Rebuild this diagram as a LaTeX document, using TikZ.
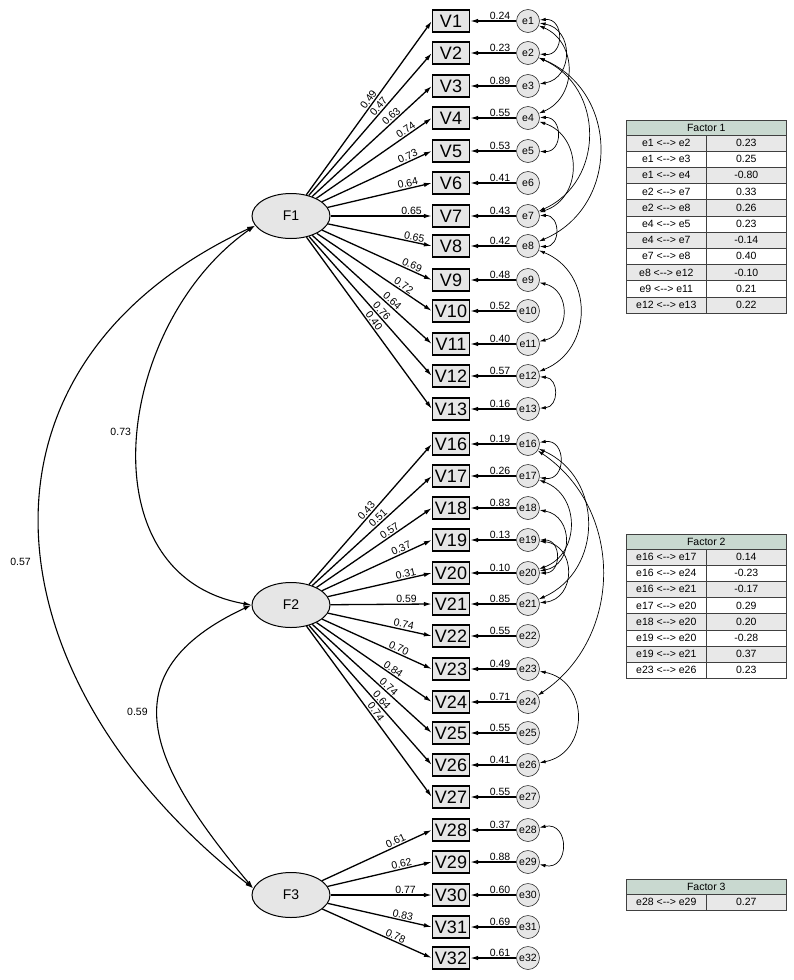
\documentclass[tikz,border=0pt]{standalone}
\usepackage{fontspec}
\setmainfont{Liberation Sans}
\usetikzlibrary{arrows.meta, shapes.geometric}

\definecolor{boxgrey}{RGB}{230,230,230}
\definecolor{rowgrey}{RGB}{232,232,232}
\definecolor{headgreen}{RGB}{201,217,208}

\begin{document}
\begin{tikzpicture}[x=1pt, y=1pt,
    every node/.style={font=\fontsize{10.5}{12}\selectfont},
    lat/.style={ellipse, draw, line width=1pt, fill=boxgrey,
      minimum width=78pt, minimum height=45pt, inner sep=0pt,
      font=\fontsize{14}{14}\selectfont},
    var/.style={rectangle, draw, line width=1.3pt, fill=boxgrey,
      minimum width=37pt, minimum height=22pt, inner sep=0pt,
      font=\fontsize{18}{18}\selectfont},
    err/.style={circle, draw=black!80, line width=0.6pt, fill=boxgrey,
      minimum size=23pt, inner sep=0pt, font=\fontsize{10.5}{11}\selectfont},
    load/.style={line width=1.3pt, -{Latex[length=8pt, width=4.5pt]}},
    cov/.style={line width=0.7pt,
      {Latex[length=6pt, width=3.5pt]}-{Latex[length=6pt, width=3.5pt]}},
    fcov/.style={line width=1.1pt,
      {Latex[length=8pt, width=4.5pt]}-{Latex[length=8pt, width=4.5pt]}},
    lbl/.style={inner sep=1pt},
    cell/.style={draw=black!75, line width=0.6pt, minimum height=16.2pt,
      minimum width=80pt, inner sep=0pt, anchor=north west,
      font=\fontsize{10.5}{11}\selectfont},
  ]
  \fill[white] (0,0) rectangle (794,-980);
  \useasboundingbox (0,0) rectangle (794,-980);

  % latent factors
  \node[lat] (F1) at (291,-216) {F1};
  \node[lat] (F2) at (291,-605) {F2};
  \node[lat] (F3) at (291,-895) {F3};

  % indicators, errors, loadings
  \foreach \vn/\vy/\fa/\ld/\ps/\rs in {
      1/21/1/0.49/0.53/0.24, 2/53/1/0.47/0.60/0.23, 3/86/1/0.63/0.69/0.89,
      4/118/1/0.74/0.80/0.55, 5/151/1/0.73/0.80/0.53, 6/183/1/0.64/0.78/0.41,
      7/216/1/0.65/0.80/0.43, 8/246/1/0.65/0.82/0.42, 9/280/1/0.69/0.80/0.48,
      10/311/1/0.72/0.73/0.52, 11/344/1/0.64/0.64/0.40, 12/376/1/0.76/0.56/0.57,
      13/409/1/0.40/0.505/0.16,
      16/444/2/0.43/0.50/0.19, 17/476/2/0.51/0.58/0.26, 18/508/2/0.57/0.66/0.83,
      19/540/2/0.37/0.74/0.13, 20/573/2/0.31/0.76/0.10, 21/604/2/0.59/0.75/0.85,
      22/636/2/0.74/0.72/0.55, 23/669/2/0.70/0.68/0.49, 24/702/2/0.84/0.64/0.71,
      25/733/2/0.74/0.61/0.55, 26/765/2/0.64/0.56/0.41, 27/797/2/0.74/0.52/0.55,
      28/830/3/0.61/0.69/0.37, 29/862/3/0.62/0.72/0.88, 30/895/3/0.77/0.74/0.60,
      31/927/3/0.83/0.71/0.69, 32/958/3/0.78/0.65/0.61} {
    \node[var] (V\vn) at (451,-\vy) {V\vn};
    \node[err] (e\vn) at (528,-\vy) {e\vn};
    \draw[load] (F\fa) -- node[lbl, sloped, above, pos=\ps] (l\vn) {\ld} (V\vn.west);
    \draw[load] (e\vn) -- node[lbl, above, pos=0.35] (r\vn) {\rs} (V\vn);
  }

  % error covariances
  \foreach \ea/\eb/\bd/\ls in {
      1/2/95/1.87, 1/3/80/1.46, 1/4/67/1.23, 2/7/66/1.21, 2/8/67/1.23,
      4/5/92/1.76, 4/7/72/1.30, 7/8/92/1.75, 8/12/68/1.25, 9/11/77/1.40,
      12/13/86/1.59,
      16/17/98/1.98, 16/24/56/1.09, 16/21/66/1.21, 17/20/70/1.27,
      18/20/80/1.46, 19/20/90/1.70, 19/21/84/1.54, 23/26/79/1.43,
      28/29/102/2.15}
    \draw[cov] (e\ea) to[bend left=\bd, looseness=\ls] (e\eb);

  % factor covariances
  \draw[fcov] (F1.195) to[out=215, in=170, looseness=1.15]
    node[lbl, pos=0.48, left=6pt] (c12) {0.73} (F2.west);
  \draw[fcov] (F1.195) to[out=205, in=142, looseness=1.3]
    node[lbl, pos=0.54, left=10pt] (c13) {0.57} (F3.170);
  \draw[fcov] (F2.west) to[out=205, in=130, looseness=1.45]
    node[lbl, pos=0.45, left=9pt] (c23) {0.59} (F3.170);

  % tables
  \node[cell, fill=headgreen, minimum width=160pt, minimum height=14.5pt]
    (t1h) at (626,-120) {Factor 1};
  \foreach \pa/\val [count=\i] in {e1 <-{}-> e2/0.23, e1 <-{}-> e3/0.25,
      e1 <-{}-> e4/-0.80, e2 <-{}-> e7/0.33, e2 <-{}-> e8/0.26,
      e4 <-{}-> e5/0.23, e4 <-{}-> e7/-0.14, e7 <-{}-> e8/0.40,
      e8 <-{}-> e12/-0.10, e9 <-{}-> e11/0.21, e12 <-{}-> e13/0.22} {
    \ifodd\i \def\rowfill{rowgrey}\else\def\rowfill{white}\fi
    \node[cell, fill=\rowfill] (t1a\i) at (626,{-134.5-(\i-1)*16.2}) {\pa};
    \node[cell, fill=\rowfill] (t1b\i) at (706,{-134.5-(\i-1)*16.2}) {\val};
  }

  \node[cell, fill=headgreen, minimum width=160pt, minimum height=14.5pt]
    (t2h) at (626,-534) {Factor 2};
  \foreach \pa/\val [count=\i] in {e16 <-{}-> e17/0.14, e16 <-{}-> e24/-0.23,
      e16 <-{}-> e21/-0.17, e17 <-{}-> e20/0.29, e18 <-{}-> e20/0.20,
      e19 <-{}-> e20/-0.28, e19 <-{}-> e21/0.37, e23 <-{}-> e26/0.23} {
    \ifodd\i \def\rowfill{rowgrey}\else\def\rowfill{white}\fi
    \node[cell, fill=\rowfill] (t2a\i) at (626,{-548.5-(\i-1)*16.2}) {\pa};
    \node[cell, fill=\rowfill] (t2b\i) at (706,{-548.5-(\i-1)*16.2}) {\val};
  }

  \node[cell, fill=headgreen, minimum width=160pt, minimum height=14.5pt]
    (t3h) at (626,-879) {Factor 3};
  \node[cell, fill=rowgrey] (t3a1) at (626,-893.5) {e28 <-{}-> e29};
  \node[cell, fill=rowgrey] (t3b1) at (706,-893.5) {0.27};
\end{tikzpicture}
\end{document}
